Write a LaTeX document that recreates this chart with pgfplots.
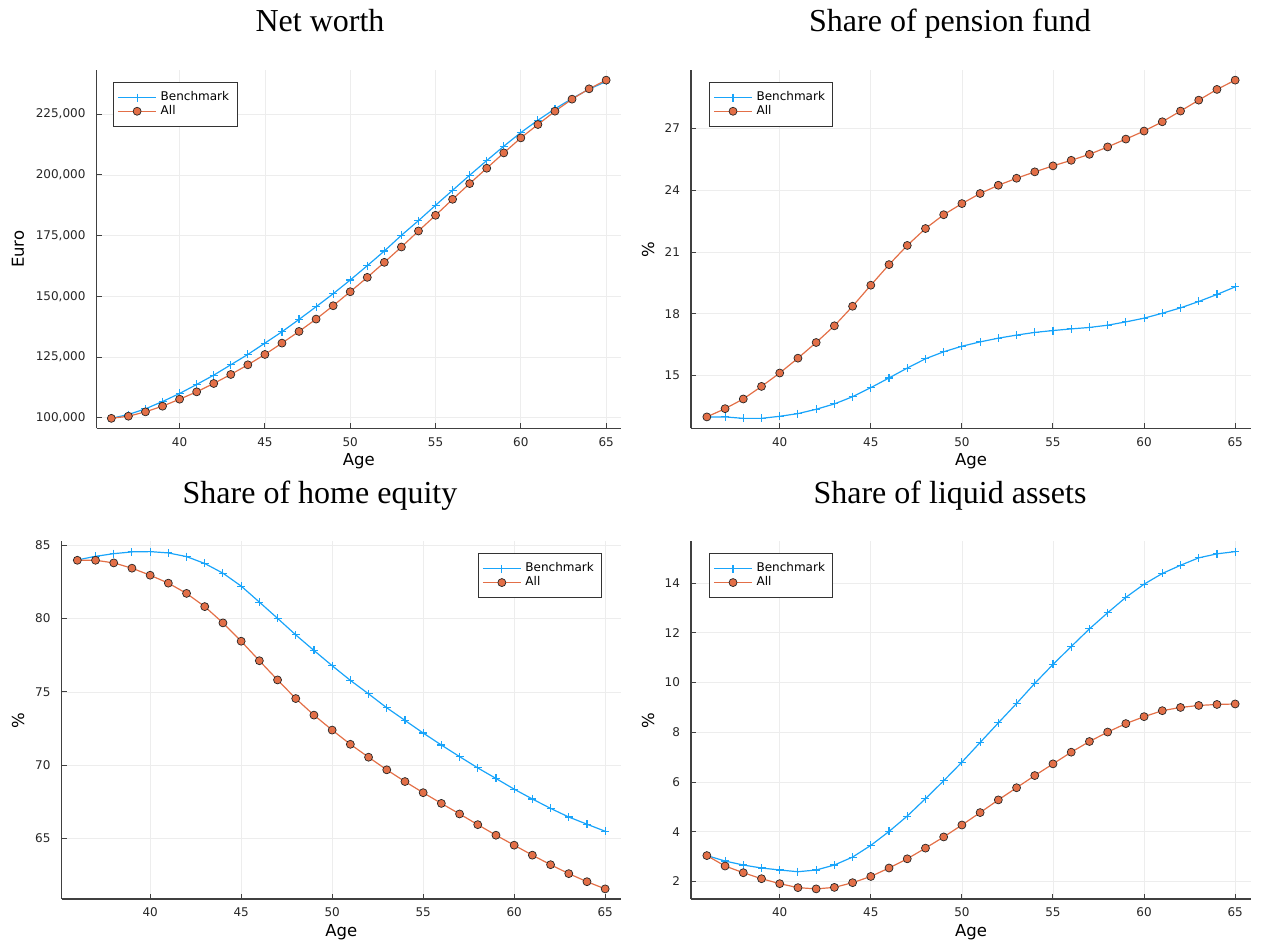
\documentclass[border=0pt]{standalone}
\usepackage{fontspec}
\setmainfont{Liberation Serif}
\setsansfont{DejaVu Sans}
\usepackage{pgfplots}
\usepackage{pgfplotstable}
\pgfplotsset{compat=1.18}

\definecolor{bench}{RGB}{0,154,250}
\definecolor{allc}{RGB}{227,111,71}

% age, net worth (Benchmark/All), share of pension fund, home equity, liquid assets
\pgfplotstableread{
age nwb    nwa    pfb   pfa   heb   hea   lab   laa
36  99800  99800  13.00 13.00 84.00 83.98 3.04  3.04
37  101370 100690 13.00 13.40 84.25 83.98 2.82  2.62
38  103710 102470 12.93 13.87 84.43 83.80 2.66  2.35
39  106730 104810 12.93 14.48 84.55 83.44 2.54  2.11
40  110030 107690 13.03 15.13 84.57 82.96 2.46  1.91
41  113740 110710 13.16 15.85 84.48 82.42 2.39  1.75
42  117580 114150 13.37 16.61 84.23 81.72 2.46  1.70
43  121840 117860 13.63 17.42 83.76 80.82 2.66  1.76
44  126100 121840 13.98 18.37 83.10 79.71 2.98  1.95
45  130770 126100 14.42 19.39 82.22 78.46 3.45  2.20
46  135440 130770 14.89 20.39 81.13 77.13 4.01  2.54
47  140520 135580 15.37 21.32 80.02 75.82 4.63  2.91
48  145740 140660 15.82 22.14 78.89 74.55 5.33  3.34
49  151100 146150 16.16 22.81 77.83 73.42 6.05  3.79
50  156730 151920 16.43 23.35 76.79 72.40 6.80  4.27
51  162640 157830 16.64 23.84 75.79 71.43 7.59  4.77
52  168680 164010 16.82 24.24 74.87 70.55 8.38  5.28
53  175140 170330 16.97 24.58 73.92 69.69 9.16  5.77
54  181180 176920 17.10 24.89 73.06 68.89 9.97  6.26
55  187500 183380 17.19 25.18 72.20 68.13 10.73 6.73
56  193680 189970 17.27 25.45 71.38 67.40 11.45 7.20
57  199860 196430 17.34 25.74 70.59 66.68 12.16 7.63
58  205900 202750 17.45 26.10 69.82 65.95 12.81 8.01
59  211810 209060 17.61 26.48 69.10 65.23 13.43 8.35
60  217440 215240 17.79 26.87 68.37 64.55 13.96 8.63
61  222520 220740 18.03 27.32 67.70 63.87 14.39 8.87
62  227190 226230 18.29 27.84 67.06 63.22 14.72 9.00
63  231450 231180 18.60 28.37 66.47 62.61 15.02 9.08
64  235300 235440 18.94 28.89 65.98 62.06 15.18 9.12
65  238460 239010 19.31 29.34 65.50 61.57 15.27 9.14
}\data

\pgfplotsset{
  panel/.style={
    scale only axis,
    axis lines*=left,
    axis line style={black!75, line width=0.6pt},
    tick align=inside,
    major tick length=2.5pt,
    tick style={black!75, line width=0.5pt},
    grid=major,
    major grid style={black!7, line width=0.4pt},
    enlarge x limits=0.03,
    enlarge y limits=0.03,
    xtick={40,45,50,55,60,65},
    /pgf/number format/assume math mode=true,
    tick label style={font=\sffamily\fontsize{6}{7}\selectfont, text=black!85},
    xticklabel style={yshift=-1pt},
    yticklabel style={xshift=-2pt},
    label style={font=\sffamily\fontsize{8.25}{9}\selectfont},
    xlabel={Age},
    legend cell align=left,
    legend style={draw=black!80, line width=0.5pt,
      font=\sffamily\fontsize{6}{7}\selectfont,
      inner xsep=2pt, inner ysep=2.5pt, row sep=-3.2pt},
    legend image code/.code={
      \draw[mark repeat=2, mark phase=2, #1]
        plot coordinates {(0pt,0pt) (9.5pt,0pt) (19pt,0pt)};},
  },
  benchline/.style={color=bench!90!white, line width=0.6pt, mark=+, mark size=2pt,
    mark options={line width=0.55pt}},
  allline/.style={color=allc, line width=0.6pt, mark=*, mark size=2pt,
    mark options={fill=allc, draw=black!85, line width=0.35pt}},
}

\begin{document}
\begin{tikzpicture}
\path[use as bounding box] (0pt,0pt) rectangle (631pt,471pt);

\node[anchor=base, font=\fontsize{16}{18}\selectfont] at (160pt,455pt) {Net worth};
\node[anchor=base, font=\fontsize{16}{18}\selectfont] at (475pt,455pt) {Share of pension fund};
\node[anchor=base, font=\fontsize{16}{18}\selectfont] at (160pt,219.3pt) {Share of home equity};
\node[anchor=base, font=\fontsize{16}{18}\selectfont] at (475pt,219.3pt) {Share of liquid assets};

% Net worth
\begin{axis}[panel,
  at={(48.25pt,256.75pt)}, anchor=south west,
  width=262.25pt, height=179.25pt,
  ytick={100000,125000,150000,175000,200000,225000},
  scaled y ticks=false,
  yticklabel style={/pgf/number format/.cd, fixed, 1000 sep={,}},
  ylabel={Euro},
  xlabel style={at={(axis description cs:0.5,-0.0926)}, anchor=center},
  ylabel style={at={(axis description cs:-0.1497,0.5)}, anchor=center},
  legend style={at={(0.0315,0.9665)}, anchor=north west},
]
\addplot[benchline] table[x=age, y=nwb] {\data};
\addplot[allline] table[x=age, y=nwa] {\data};
\legend{Benchmark, All}
\end{axis}

% Share of pension fund
\begin{axis}[panel,
  at={(345.5pt,256.75pt)}, anchor=south west,
  width=280pt, height=179.25pt,
  ytick={15,18,21,24,27},
  ylabel={\%},
  xlabel style={at={(axis description cs:0.5,-0.0926)}, anchor=center},
  ylabel style={at={(axis description cs:-0.0768,0.5)}, anchor=center},
  legend style={at={(0.032,0.9665)}, anchor=north west},
]
\addplot[benchline] table[x=age, y=pfb] {\data};
\addplot[allline] table[x=age, y=pfa] {\data};
\legend{Benchmark, All}
\end{axis}

% Share of home equity
\begin{axis}[panel,
  at={(30.75pt,21.5pt)}, anchor=south west,
  width=279.75pt, height=178.75pt,
  ytick={65,70,75,80,85},
  ylabel={\%},
  xlabel style={at={(axis description cs:0.5,-0.0915)}, anchor=center},
  ylabel style={at={(axis description cs:-0.0777,0.5)}, anchor=center},
  legend style={at={(0.9666,0.967)}, anchor=north east},
]
\addplot[benchline] table[x=age, y=heb] {\data};
\addplot[allline] table[x=age, y=hea] {\data};
\legend{Benchmark, All}
\end{axis}

% Share of liquid assets
\begin{axis}[panel,
  at={(345.5pt,21.5pt)}, anchor=south west,
  width=280pt, height=178.75pt,
  ytick={2,4,6,8,10,12,14},
  ylabel={\%},
  xlabel style={at={(axis description cs:0.5,-0.0915)}, anchor=center},
  ylabel style={at={(axis description cs:-0.0768,0.5)}, anchor=center},
  legend style={at={(0.032,0.967)}, anchor=north west},
]
\addplot[benchline] table[x=age, y=lab] {\data};
\addplot[allline] table[x=age, y=laa] {\data};
\legend{Benchmark, All}
\end{axis}
\end{tikzpicture}
\end{document}
